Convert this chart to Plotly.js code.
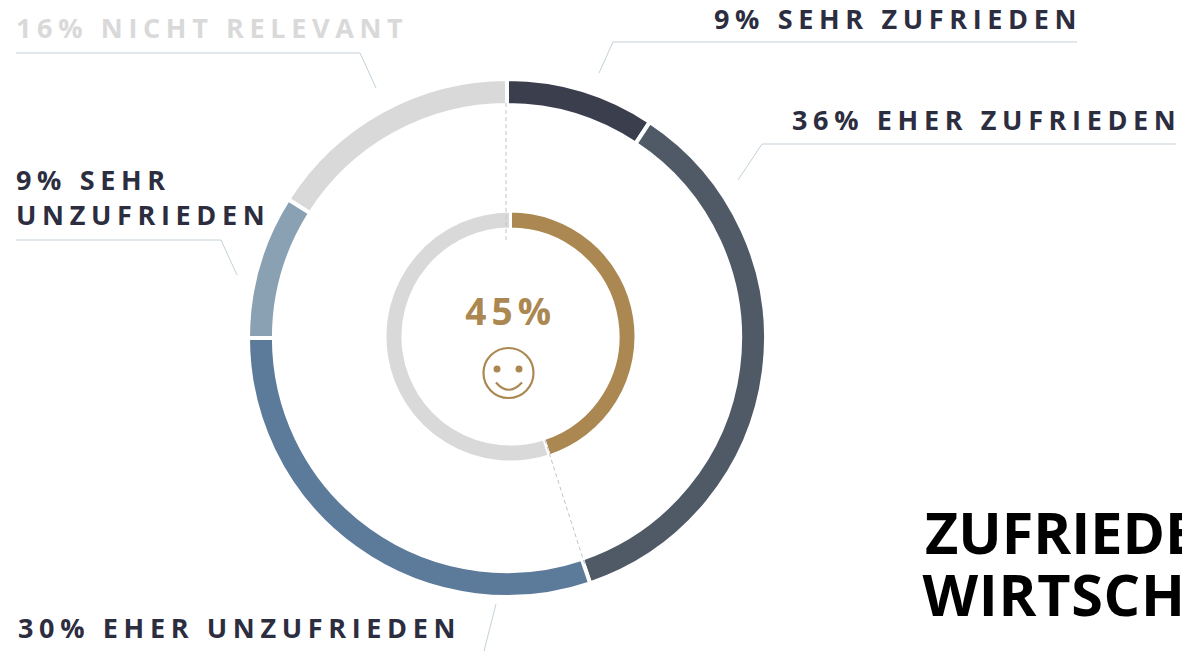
<!DOCTYPE html>
<html><head><meta charset="utf-8">
<script src="https://cdn.plot.ly/plotly-3.0.1.min.js"></script>
<style>
html,body{margin:0;padding:0;background:#fff;overflow:hidden}
#chart{width:1182px;height:651px}
.annotation text{letter-spacing:5.65px}
.annotation[data-index="5"] text{letter-spacing:5.1px}
.annotation[data-index="6"] text{letter-spacing:0}
.annotation[data-index="7"] text{letter-spacing:0.7px}
</style></head><body><div id="chart"></div>
<script>
const W=1182,H=651;
const categories=["Sehr zufrieden","Eher zufrieden","Eher unzufrieden","Sehr unzufrieden","Nicht relevant"];
const outerValues=[9.3,35.5,30.2,9,16];
const outerColors=["#3a3e4d","#505a66","#5c7a99","#89a1b2","#d9d9d9"];
const innerCategories=["Zufrieden","Rest"];
const innerValues=[45,55];
const innerColors=["#ab8852","#d9d9d9"];
const labels=[
 {t:"9% SEHR ZUFRIEDEN",x:711.5,y:18.5,c:"#2c2d3f",s:27},
 {t:"36% EHER ZUFRIEDEN",x:789.5,y:119.5,c:"#2c2d3f",s:27},
 {t:"30% EHER UNZUFRIEDEN",x:15.5,y:627,c:"#2c2d3f",s:27},
 {t:"9% SEHR<br>UNZUFRIEDEN",x:13.5,y:197,c:"#2c2d3f",s:27},
 {t:"16% NICHT RELEVANT",x:13.5,y:28,c:"#d9d9d9",s:27}
];
const leaders=[
 [[1077,42],[613,42],[599,73]],
 [[1176,144],[762,144],[738,180]],
 [[496,604],[484,651]],
 [[16,240],[221,240],[237,275]],
 [[16,53],[360,53],[376,88]]
];
const dashes=[[[506,103],[506,240]],[[545,440],[585,565]]];
const px=x=>x/W, py=y=>1-y/H;
const pathOf=p=>p.map((q,i)=>(i?"L":"M")+px(q[0])+","+py(q[1])).join(" ");
function dom(cx,cy,r){return{x:[(cx-r)/W,(cx+r)/W],y:[1-(cy+r)/H,1-(cy-r)/H]}}
const traces=[
 {type:"pie",labels:categories,values:outerValues,sort:false,direction:"clockwise",rotation:0,hole:0.9,
  textinfo:"none",hoverinfo:"label+percent",domain:dom(507,338,259),
  marker:{colors:outerColors,line:{color:"#fff",width:4}},showlegend:false},
 {type:"pie",labels:innerCategories,values:innerValues,sort:false,direction:"clockwise",rotation:0,hole:0.857,
  textinfo:"none",hoverinfo:"label+percent",domain:dom(510.5,336.5,125.5),
  marker:{colors:innerColors,line:{color:"#fff",width:3}},showlegend:false}
];
const shapes=[];
leaders.forEach(l=>shapes.push({type:"path",xref:"paper",yref:"paper",path:pathOf(l),line:{color:"#c3d0d8",width:1}}));
dashes.forEach(l=>shapes.push({type:"path",xref:"paper",yref:"paper",path:pathOf(l),line:{color:"#bcc6cd",width:1,dash:"4px,3px"}}));
const gold="#ab8852";
shapes.push({type:"circle",xref:"paper",yref:"paper",x0:px(483.5),x1:px(533.5),y0:py(398),y1:py(348),line:{color:gold,width:2.2}});
[497,519].forEach(x=>shapes.push({type:"circle",xref:"paper",yref:"paper",x0:px(x-3.5),x1:px(x+3.5),y0:py(372.5),y1:py(365.5),fillcolor:gold,line:{width:0}}));
shapes.push({type:"path",xref:"paper",yref:"paper",path:`M${px(496)},${py(382.5)} Q${px(508.5)},${py(397)} ${px(522)},${py(382.5)}`,line:{color:gold,width:2.2}});
const ann=labels.map(l=>({xref:"paper",yref:"paper",x:px(l.x),y:py(l.y),xanchor:"left",yanchor:"middle",align:"left",showarrow:false,
  text:"<b>"+l.t+"</b>",font:{family:"Open Sans",size:l.s,color:l.c}}));
ann.push({xref:"paper",yref:"paper",x:px(510.5),y:py(310.5),xanchor:"center",yanchor:"middle",showarrow:false,text:"<b>45%</b>",font:{family:"Open Sans",size:37,color:gold}});
ann.push({xref:"paper",yref:"paper",x:px(922.5),y:py(532),xanchor:"left",yanchor:"middle",showarrow:false,text:"<b>ZUFRIEDE</b>",font:{family:"Open Sans",size:57.5,color:"#000"}});
ann.push({xref:"paper",yref:"paper",x:px(922.5),y:py(594),xanchor:"left",yanchor:"middle",showarrow:false,text:"<b>WIRTSCH</b>",font:{family:"Open Sans",size:57.5,color:"#000"}});
Plotly.newPlot("chart",traces,{width:W,height:H,margin:{l:0,r:0,t:0,b:0},paper_bgcolor:"#fff",showlegend:false,shapes:shapes,annotations:ann},{displayModeBar:false});
</script></body></html>
